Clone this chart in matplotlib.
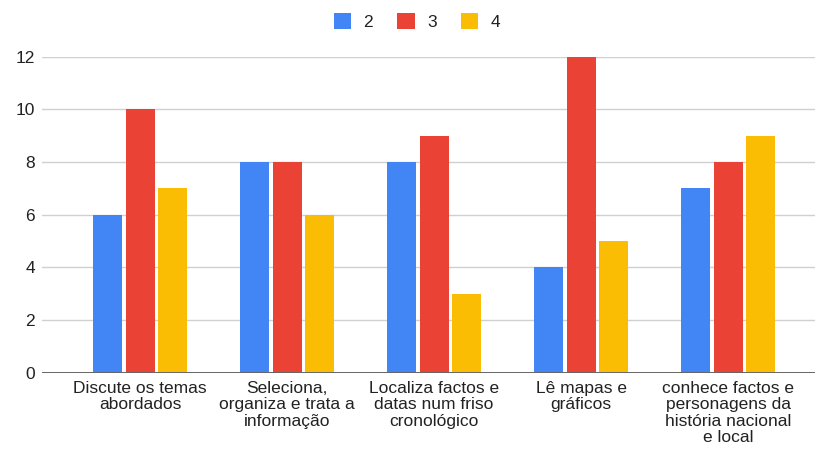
import matplotlib.pyplot as plt
import numpy as np
from matplotlib.patches import Patch

plt.rcParams['font.family'] = ['Liberation Sans', 'DejaVu Sans']

# categories (wrapped as in the original chart)
categories = [
    "Discute os temas\nabordados",
    "Seleciona,\norganiza e trata a\ninformação",
    "Localiza factos e\ndatas num friso\ncronológico",
    "Lê mapas e\ngráficos",
    "conhece factos e\npersonagens da\nhistória nacional\ne local",
]
series_names = ["2", "3", "4"]
vals_2 = [6, 8, 8, 4, 7]
vals_3 = [10, 8, 9, 12, 8]
vals_4 = [7, 6, 3, 5, 9]
colors = ["#4285F4", "#EA4335", "#FBBC04"]

fig = plt.figure(figsize=(8.21, 4.5), dpi=100)
ax = fig.add_axes([42 / 821, 1 - 372.7 / 450, (815 - 42) / 821, (372.7 - 56.7) / 450])

x = np.arange(len(categories))
width = 0.197
step = 0.221
for i, (vals, c) in enumerate(zip([vals_2, vals_3, vals_4], colors)):
    ax.bar(x + (i - 1) * step, vals, width, color=c, zorder=3)

ax.set_xlim(-0.667, 4.59)
ax.set_ylim(0, 12)
ax.set_yticks(range(0, 13, 2))
ax.grid(axis='y', color='#d0d0d0', lw=1, zorder=0)
ax.axhline(0, color='#666666', lw=1.4, zorder=4)
for s in ax.spines.values():
    s.set_visible(False)

ax.set_xticks(x)
ax.set_xticklabels(categories, fontsize=12.5, color='#222222', linespacing=1.12)
ax.tick_params(axis='x', length=0, pad=6)
ax.tick_params(axis='y', length=0, pad=5, labelsize=12.5, labelcolor='#222222')

handles = [Patch(facecolor=c, label=n) for c, n in zip(colors, series_names)]
fig.legend(handles=handles, loc='center', bbox_to_anchor=(0.508, 1 - 21.5 / 450),
           ncol=3, frameon=False, fontsize=12.5, handlelength=1.0, handleheight=1.0,
           handletextpad=0.7, columnspacing=1.4, labelcolor='#222222')

fig.savefig("out.png", dpi=100)
